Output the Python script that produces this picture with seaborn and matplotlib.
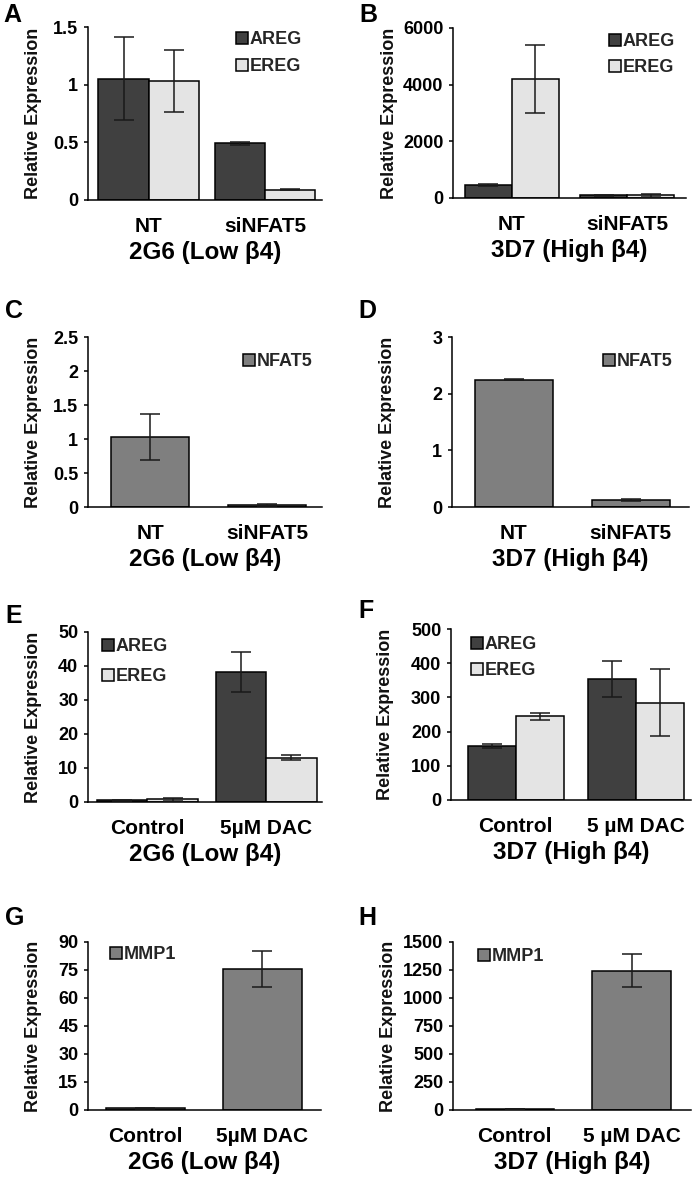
import numpy as np
import pandas as pd
import matplotlib
matplotlib.use("Agg")
import matplotlib.pyplot as plt
from matplotlib.patches import Patch
from matplotlib.container import BarContainer
import seaborn as sns

sns.set_theme(style="white")
plt.rcParams["font.family"] = ["Liberation Sans", "DejaVu Sans"]

# ---------------- data ----------------
si_groups = ["NT", "siNFAT5"]
dac_groups_low = ["Control", "5\u00b5M DAC"]
dac_groups_high = ["Control", "5 \u00b5M DAC"]
xlabel_low = "2G6 (Low \u03b24)"
xlabel_high = "3D7 (High \u03b24)"

# A: 2G6, siNFAT5
A_areg = [1.05, 0.49]
A_areg_err = [0.36, 0.017]
A_ereg = [1.03, 0.09]
A_ereg_err = [0.27, 0.006]
A_yticks = [0, 0.5, 1, 1.5]
A_yticklabels = ["0", "0.5", "1", "1.5"]

# B: 3D7, siNFAT5
B_areg = [460, 100]
B_areg_err = [50, 12]
B_ereg = [4200, 90]
B_ereg_err = [1185, 45]
B_yticks = [0, 2000, 4000, 6000]
B_yticklabels = ["0", "2000", "4000", "6000"]

# C: 2G6 NFAT5
C_nfat5 = [1.03, 0.03]
C_nfat5_err = [0.34, 0.01]
C_yticks = [0, 0.5, 1, 1.5, 2, 2.5]
C_yticklabels = ["0", "0.5", "1", "1.5", "2", "2.5"]

# D: 3D7 NFAT5
D_nfat5 = [2.25, 0.12]
D_nfat5_err = [0.005, 0.02]
D_yticks = [0, 1, 2, 3]
D_yticklabels = ["0", "1", "2", "3"]

# E: 2G6 DAC
E_areg = [0.5, 38.2]
E_areg_err = [0.2, 5.9]
E_ereg = [0.8, 13.0]
E_ereg_err = [0.4, 0.75]
E_yticks = [0, 10, 20, 30, 40, 50]
E_yticklabels = ["0", "10", "20", "30", "40", "50"]

# F: 3D7 DAC
F_areg = [158, 354]
F_areg_err = [6, 53]
F_ereg = [245, 285]
F_ereg_err = [10, 98]
F_yticks = [0, 100, 200, 300, 400, 500]
F_yticklabels = ["0", "100", "200", "300", "400", "500"]

# G: 2G6 MMP1
G_mmp1 = [1.0, 75.5]
G_mmp1_err = [0.3, 9.6]
G_yticks = [0, 15, 30, 45, 60, 75, 90]
G_yticklabels = ["0", "15", "30", "45", "60", "75", "90"]

# H: 3D7 MMP1
H_mmp1 = [9, 1245]
H_mmp1_err = [3, 146]
H_yticks = [0, 250, 500, 750, 1000, 1250, 1500]
H_yticklabels = ["0", "250", "500", "750", "1000", "1250", "1500"]

# ---------------- style ----------------
C_AREG = "#404040"
C_EREG = "#e4e4e4"
C_MID = "#7f7f7f"

W, H = 693, 1181
fig = plt.figure(figsize=(W / 100, H / 100), dpi=100)


def fx(px):
    return px / W


def fy(py):
    return 1 - py / H


def make_ax(l, r, t, b):
    return fig.add_axes([fx(l), fy(b), (r - l) / W, (b - t) / H])


def panel(ax_px, groups, series, width, xlim, yticks, yticklabels, xlabel,
          leg_px, ylab_x, letter, letter_px, labelspacing=0.5):
    l, r, t, b = ax_px
    ax = make_ax(l, r, t, b)
    genes = [s[0] for s in series]
    rows = []
    for name, vals, errs, col in series:
        for g, v in zip(groups, vals):
            rows.append({"group": g, "gene": name, "value": v})
    df = pd.DataFrame(rows)
    pal = {s[0]: s[3] for s in series}
    sns.barplot(data=df, x="group", y="value", hue="gene", order=groups,
                hue_order=genes, palette=pal, width=width, errorbar=None,
                edgecolor="black", linewidth=1.1, saturation=1, legend=False,
                ax=ax)
    bar_conts = [c for c in ax.containers if isinstance(c, BarContainer)]
    for ci, cont in enumerate(bar_conts):
        errs = series[ci][2]
        for j, bar in enumerate(cont):
            xc = bar.get_x() + bar.get_width() / 2
            ax.errorbar(xc, bar.get_height(), yerr=errs[j], fmt="none",
                        ecolor="#1a1a1a", elinewidth=1.1, capsize=7,
                        capthick=1.1, zorder=3)
    ax.set_xlim(*xlim)
    ax.set_ylim(0, yticks[-1])
    ax.set_yticks(yticks)
    ax.set_yticklabels(yticklabels)
    sns.despine(ax=ax)
    for s in ["left", "bottom"]:
        ax.spines[s].set_color("black")
        ax.spines[s].set_linewidth(1.1)
    ax.tick_params(axis="y", left=True, direction="out", length=3, width=1.1,
                   color="black", pad=4, labelsize=13, labelcolor="black")
    ax.tick_params(axis="x", bottom=False, length=0, pad=12, labelsize=15,
                   labelcolor="black")
    for tl in ax.get_xticklabels() + ax.get_yticklabels():
        tl.set_fontweight("bold")
    ax.set_xlabel(xlabel, fontsize=17.5, fontweight="bold", color="black")
    axh = b - t
    ax.xaxis.set_label_coords(0.5, -41 / axh)
    ax.set_ylabel("Relative Expression", fontsize=13, fontweight="bold",
                  color="#111111")
    ax.yaxis.set_label_coords(ylab_x, 0.5)
    handles = [Patch(facecolor=s[3], edgecolor="black", linewidth=1.1,
                     label=s[0]) for s in series]
    lx, ly = leg_px
    ax.legend(handles=handles, loc="upper left",
              bbox_to_anchor=(fx(lx), fy(ly - 7)),
              bbox_transform=fig.transFigure, frameon=False, borderpad=0,
              borderaxespad=0, handlelength=0.65, handleheight=0.65,
              handletextpad=0.1, labelspacing=labelspacing,
              prop={"weight": "bold", "size": 13})
    fig.text(fx(letter_px[0]), fy(letter_px[1]), letter, fontsize=18,
             fontweight="bold", ha="left", va="baseline", color="black")
    return ax


LEFT_YL = -0.197
RIGHT_YL = -0.236

panel((88, 322, 27, 200), si_groups,
      [("AREG", A_areg, A_areg_err, C_AREG), ("EREG", A_ereg, A_ereg_err, C_EREG)],
      0.86, (-0.52, 1.49), A_yticks, A_yticklabels, xlabel_low,
      (236, 38), LEFT_YL, "A", (3, 22), labelspacing=0.55)
panel((453, 686, 28, 198), si_groups,
      [("AREG", B_areg, B_areg_err, C_AREG), ("EREG", B_ereg, B_ereg_err, C_EREG)],
      0.81, (-0.51, 1.51), B_yticks, B_yticklabels, xlabel_high,
      (609, 40), RIGHT_YL, "B", (359, 22), labelspacing=0.5)
panel((88, 322, 337, 507), si_groups,
      [("NFAT5", C_nfat5, C_nfat5_err, C_MID)],
      0.66, (-0.53, 1.47), C_yticks, C_yticklabels, xlabel_low,
      (243, 360), LEFT_YL, "C", (5, 318))
panel((452, 689, 337, 507), si_groups,
      [("NFAT5", D_nfat5, D_nfat5_err, C_MID)],
      0.67, (-0.53, 1.5), D_yticks, D_yticklabels, xlabel_high,
      (603, 360), RIGHT_YL, "D", (358, 318))
panel((88, 322, 632, 802), dac_groups_low,
      [("AREG", E_areg, E_areg_err, C_AREG), ("EREG", E_ereg, E_ereg_err, C_EREG)],
      0.85, (-0.5, 1.47), E_yticks, E_yticklabels, xlabel_low,
      (102, 645), LEFT_YL, "E", (5, 623), labelspacing=0.72)
panel((451, 691, 629, 800), dac_groups_high,
      [("AREG", F_areg, F_areg_err, C_AREG), ("EREG", F_ereg, F_ereg_err, C_EREG)],
      0.8, (-0.54, 1.46), F_yticks, F_yticklabels, xlabel_high,
      (471, 643), RIGHT_YL, "F", (358, 618), labelspacing=0.5)
panel((88, 321, 942, 1110), dac_groups_low,
      [("MMP1", G_mmp1, G_mmp1_err, C_MID)],
      0.67, (-0.49, 1.5), G_yticks, G_yticklabels, xlabel_low,
      (110, 953), LEFT_YL, "G", (5, 925))
panel((453, 691, 942, 1110), dac_groups_high,
      [("MMP1", H_mmp1, H_mmp1_err, C_MID)],
      0.67, (-0.53, 1.51), H_yticks, H_yticklabels, xlabel_high,
      (478, 955), RIGHT_YL, "H", (358, 925))

fig.savefig("out.png", dpi=100, facecolor="white")
